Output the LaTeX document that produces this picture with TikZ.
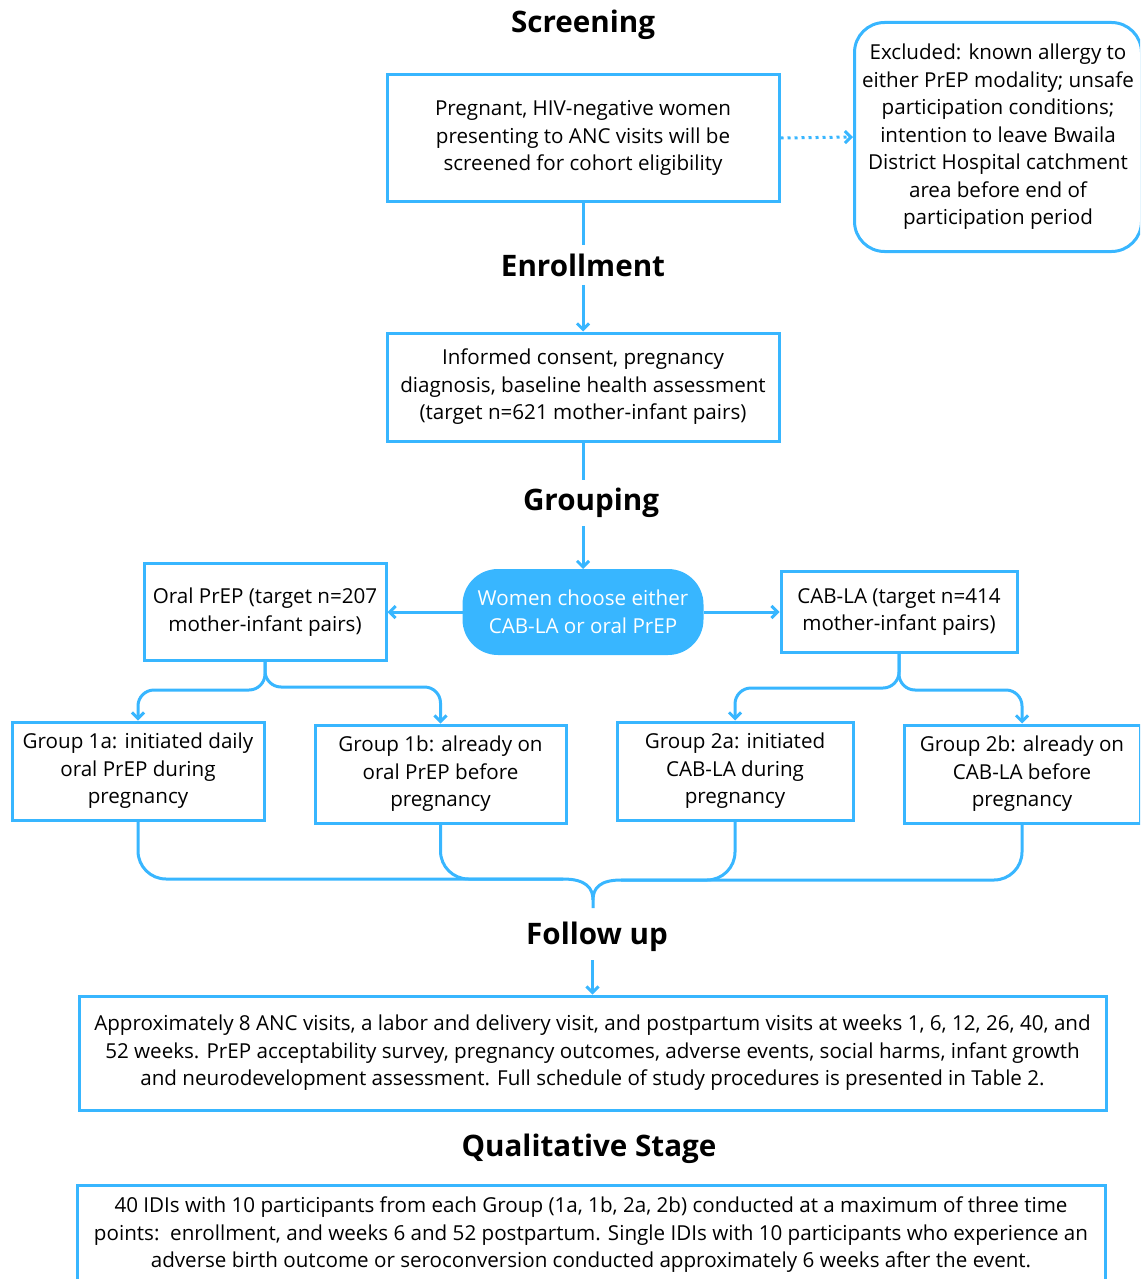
\documentclass[tikz,border=0pt]{standalone}
\usepackage{fontspec}
\setmainfont{Open Sans}
\usetikzlibrary{arrows.meta,positioning,calc}
\definecolor{skyb}{HTML}{38B6FF}

\begin{document}
\begin{tikzpicture}[
  x=0.5pt, y=-0.5pt,
  font=\fontsize{10.3}{13.75}\selectfont,
  box/.style={rectangle, draw=skyb, line width=1.5pt, align=center, inner sep=2pt},
  excl/.style={box, rounded corners=15pt},
  pill/.style={box, fill=skyb, text=white, rounded corners=17pt},
  ttl/.style={font=\fontsize{14.8}{16}\selectfont\bfseries, inner sep=4pt},
  ln/.style={draw=skyb, line width=1.5pt},
  arr/.style={ln, -{Straight Barb[length=3pt, width=6pt]}}
]
  \clip (0,0) rectangle (1140,1279);
  % titles
  \node[ttl] (scrt) at (583,25) {Screening};
  \node[ttl] (enrt) at (583,265) {Enrollment};
  \node[ttl] (grpt) at (591,503) {Grouping};
  \node[ttl] (fut) at (597,937) {Follow up};
  \node[ttl] (qualt) at (589,1149) {Qualitative Stage};
  % boxes
  \node[box, minimum width=196pt, minimum height=63.5pt] (scr) at (583,138)
    {Pregnant, HIV-negative women\\ presenting to ANC visits will be\\ screened for cohort eligibility};
  \node[excl, minimum width=143.5pt, minimum height=114.5pt] (exc) at (998,137)
    {Excluded: known allergy to\\ either PrEP modality; unsafe\\ participation conditions;\\ intention to leave Bwaila\\ District Hospital catchment\\ area before end of\\ participation period};
  \node[box, minimum width=196pt, minimum height=54pt] (enr) at (583,387)
    {Informed consent, pregnancy\\ diagnosis, baseline health assessment\\ (target n=621 mother-infant pairs)};
  \node[pill, minimum width=119pt, minimum height=41.5pt] (choose) at (583,612)
    {Women choose either\\ CAB-LA or oral PrEP};
  \node[box, minimum width=121pt, minimum height=48.5pt] (oral) at (265,612)
    {Oral PrEP (target n=207\\ mother-infant pairs)};
  \node[box, minimum width=118pt, minimum height=40.5pt] (cab) at (899,612)
    {CAB-LA (target n=414\\ mother-infant pairs)};
  \node[box, minimum width=126pt, minimum height=49pt] (g1a) at (138,771)
    {Group 1a: initiated daily\\ oral PrEP during\\ pregnancy};
  \node[box, minimum width=125.5pt, minimum height=49pt] (g1b) at (440.5,774)
    {Group 1b: already on\\ oral PrEP before\\ pregnancy};
  \node[box, minimum width=118pt, minimum height=49pt] (g2a) at (735,771)
    {Group 2a: initiated\\ CAB-LA during\\ pregnancy};
  \node[box, minimum width=118pt, minimum height=49pt] (g2b) at (1022,774)
    {Group 2b: already on\\ CAB-LA before\\ pregnancy};
  \node[box, minimum width=513.5pt, minimum height=57pt] (fu) at (592.5,1053)
    {Approximately 8 ANC visits, a labor and delivery visit, and postpartum visits at weeks 1, 6, 12, 26, 40, and\\
     52 weeks. PrEP acceptability survey, pregnancy outcomes, adverse events, social harms, infant growth\\
     and neurodevelopment assessment. Full schedule of study procedures is presented in Table 2.};
  \node[box, minimum width=514pt, minimum height=50pt] (qual) at (591,1235)
    {40 IDIs with 10 participants from each Group (1a, 1b, 2a, 2b) conducted at a maximum of three time\\
     points:\ \ enrollment, and weeks 6 and 52 postpartum. Single IDIs with 10 participants who experience an\\
     adverse birth outcome or seroconversion conducted approximately 6 weeks after the event.};
  \coordinate (tip) at (593,908);
  % connectors
  \draw[arr, dotted] (scr.east) -- (exc.west);
  \draw[ln] (scr.south) -- (scr.south |- enrt.north);
  \draw[arr] (enrt.south) -- (enr.north);
  \draw[ln] (enr.south) -- (enr.south |- grpt.north);
  \draw[arr] (choose.north |- grpt.south) -- (choose.north);
  \draw[arr] (choose.west) -- (oral.east);
  \draw[arr] (choose.east) -- (cab.west);
  \draw[arr, rounded corners=8pt] (oral.south) |- (g1a.north |- 0,690) -- (g1a.north);
  \draw[arr, rounded corners=8pt] (oral.south) |- (g1b.north |- 0,687) -- (g1b.north);
  \draw[arr, rounded corners=8pt] (cab.south) |- (g2a.north |- 0,688) -- (g2a.north);
  \draw[arr, rounded corners=8pt] (cab.south) |- (g2b.north |- 0,690) -- (g2b.north);
  % brace into follow up
  \draw[ln, rounded corners=14pt] (g1a.south) |- (563,879);
  \draw[ln] (563,879) .. controls (586,879) and (593,888) .. (593,900) -- (tip);
  \draw[ln, rounded corners=14pt] (g1b.south) |- (563,879);
  \draw[ln, rounded corners=14pt] (g2b.south) |- (621,880);
  \draw[ln] (621,880) .. controls (600,880) and (593,888) .. (593,900);
  \draw[ln, rounded corners=14pt] (g2a.south) |- (621,880);
  \draw[arr] (fu.north |- fut.south) -- (fu.north);
\end{tikzpicture}
\end{document}
